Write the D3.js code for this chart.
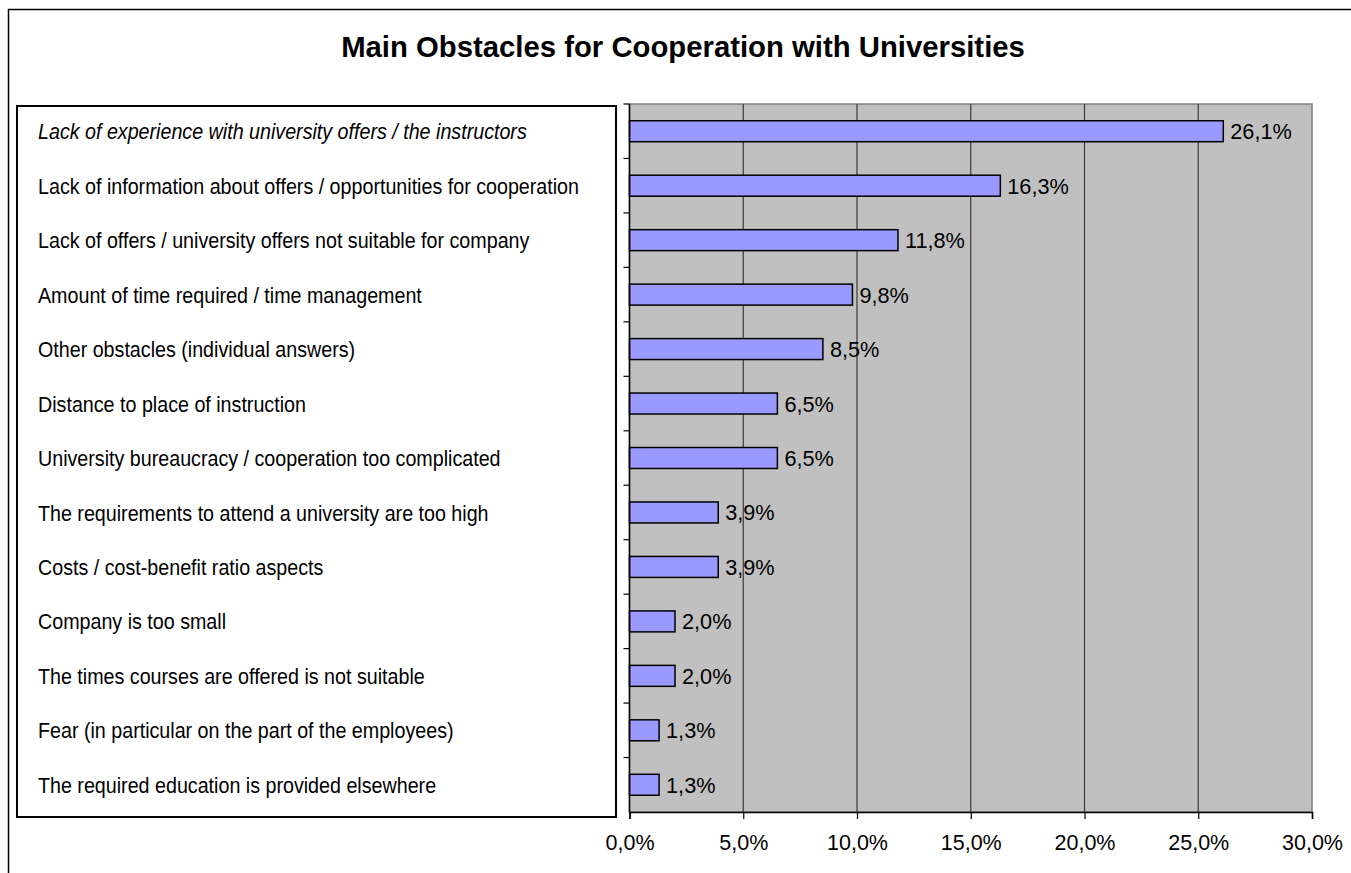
<!DOCTYPE html>
<html>
<head>
<meta charset="utf-8">
<script src="https://cdn.jsdelivr.net/npm/d3@7"></script>
<style>
  body { margin: 0; background: #fff; }
  svg { display: block; }
</style>
</head>
<body>
<div id="chart"></div>
<script>
// categories and values, top to bottom
var categories = [
    "Lack of experience with university offers / the instructors",
    "Lack of information about offers / opportunities for cooperation",
    "Lack of offers / university offers not suitable for company",
    "Amount of time required / time management",
    "Other obstacles (individual answers)",
    "Distance to place of instruction",
    "University bureaucracy / cooperation too complicated",
    "The requirements to attend a university are too high",
    "Costs / cost-benefit ratio aspects",
    "Company is too small",
    "The times courses are offered is not suitable",
    "Fear (in particular on the part of the employees)",
    "The required education is provided elsewhere"
];
var values = [26.1, 16.3, 11.8, 9.8, 8.5, 6.5, 6.5, 3.9, 3.9, 2.0, 2.0, 1.3, 1.3];
var xTicks = [0, 5, 10, 15, 20, 25, 30];

var width = 1351, height = 873;
var plot = { left: 629.5, top: 104, right: 1312, bottom: 812 };

var svg = d3.select("#chart").append("svg")
    .attr("width", width)
    .attr("height", height);

// outer frame (runs off right / bottom)
svg.append("rect")
    .attr("x", 8.5).attr("y", 9.5)
    .attr("width", width + 20).attr("height", height + 20)
    .attr("fill", "none")
    .attr("stroke", "#000")
    .attr("stroke-width", 1.5);

svg.append("text")
    .attr("x", 683).attr("y", 57)
    .attr("text-anchor", "middle")
    .attr("font-family", "Liberation Sans, Arial, sans-serif")
    .attr("font-weight", "bold")
    .attr("font-size", 29.3)
    .text("Main Obstacles for Cooperation with Universities");

var x = d3.scaleLinear().domain([0, 30]).range([plot.left, plot.right]);
var y = d3.scaleBand().domain(categories).range([plot.top, plot.bottom]).paddingInner(0.615).paddingOuter(0.3075);
var yb = d3.scaleBand().domain(categories).range([plot.top, plot.bottom]);

// plot background
svg.append("rect")
    .attr("x", plot.left).attr("y", plot.top)
    .attr("width", plot.right - plot.left).attr("height", plot.bottom - plot.top)
    .attr("fill", "#c0c0c0")
    .attr("stroke", "#808080")
    .attr("stroke-width", 1.5);

// vertical gridlines
svg.append("g").selectAll("line")
    .data(xTicks.slice(1, -1))
    .enter().append("line")
    .attr("x1", d => x(d)).attr("x2", d => x(d))
    .attr("y1", plot.top).attr("y2", plot.bottom)
    .attr("stroke", "#3a3a3a")
    .attr("stroke-width", 1.2);

// bars
svg.append("g").selectAll("rect")
    .data(values)
    .enter().append("rect")
    .attr("x", x(0))
    .attr("y", (d, i) => y(categories[i]))
    .attr("width", d => x(d) - x(0))
    .attr("height", y.bandwidth())
    .attr("fill", "#9999ff")
    .attr("stroke", "#000")
    .attr("stroke-width", 1.5);

// value labels
svg.append("g").selectAll("text")
    .data(values)
    .enter().append("text")
    .attr("x", d => x(d) + 7)
    .attr("y", (d, i) => y(categories[i]) + y.bandwidth() / 2)
    .attr("dy", "0.37em")
    .attr("font-family", "Liberation Sans, Arial, sans-serif")
    .attr("font-size", 21.7)
    .attr("fill", "#000")
    .text(d => d.toFixed(1).replace(".", ",") + "%");

// x axis
var xAxis = d3.axisBottom(x)
    .tickValues(xTicks)
    .tickSize(7)
    .tickPadding(16)
    .tickFormat(d => d.toFixed(1).replace(".", ",") + "%");
var gx = svg.append("g")
    .attr("transform", "translate(0," + plot.bottom + ")")
    .call(xAxis);
gx.select(".domain").attr("stroke", "#000").attr("stroke-width", 1.5);
gx.selectAll(".tick line").attr("stroke", "#000").attr("stroke-width", 1.2);
gx.selectAll(".tick text")
    .attr("font-family", "Liberation Sans, Arial, sans-serif")
    .attr("font-size", 21.5)
    .attr("fill", "#000");

// y axis line with ticks on category boundaries
svg.append("line")
    .attr("x1", plot.left).attr("x2", plot.left)
    .attr("y1", plot.top).attr("y2", plot.bottom)
    .attr("stroke", "#000").attr("stroke-width", 1.5);
svg.append("g").selectAll("line")
    .data(categories)
    .enter().append("line")
    .attr("x1", plot.left - 6).attr("x2", plot.left)
    .attr("y1", d => yb(d)).attr("y2", d => yb(d))
    .attr("stroke", "#000").attr("stroke-width", 1.2);

// category label box
svg.append("rect")
    .attr("x", 17).attr("y", 106)
    .attr("width", 599).attr("height", 711)
    .attr("fill", "#fff")
    .attr("stroke", "#000")
    .attr("stroke-width", 2);

// no narrow font installed: squeeze Liberation Sans horizontally
svg.append("g").selectAll("text")
    .data(categories)
    .enter().append("text")
    .attr("transform", d => "translate(38," + (yb(d) + yb.bandwidth() / 2) + ") scale(0.875,1)")
    .attr("dy", "0.36em")
    .attr("font-family", "Liberation Sans, Arial, sans-serif")
    .attr("font-size", 22.5)
    .attr("font-style", (d, i) => i === 0 ? "italic" : "normal")
    .attr("fill", "#000")
    .text(d => d);
</script>
</body>
</html>
